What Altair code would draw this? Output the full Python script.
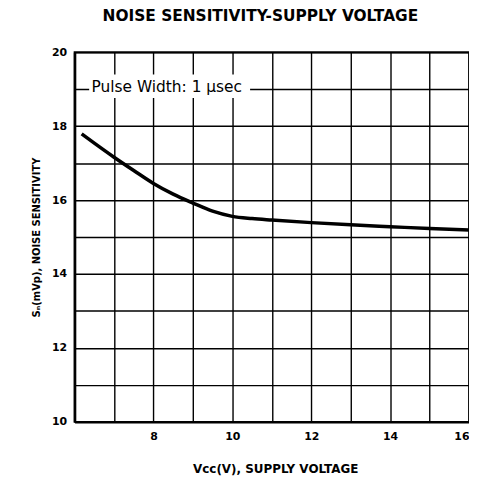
import altair as alt
import pandas as pd

# Curve data
vcc = [6.18, 6.5, 7.0, 7.5, 8.0, 8.5, 9.0, 9.5, 10.0, 10.5, 11.0, 12.0, 13.0, 14.0, 15.0, 16.0]
sn = [17.79, 17.54, 17.16, 16.80, 16.45, 16.16, 15.92, 15.70, 15.56, 15.50, 15.46, 15.39, 15.33, 15.28, 15.23, 15.19]

x_grid = list(range(6, 17))
x_labels = [8, 10, 12, 14, 16]
y_grid = list(range(10, 21))
y_labels = [10, 12, 14, 16, 18, 20]

title_text = ["NOISE SENSITIVITY-SUPPLY VOLTAGE"]
ann_text = ["Pulse Width: 1 \u03bcsec"]
ann_x = [6.43]
ann_y = [19.05]
box_x = [6.37]
box_x2 = [10.45]
box_y = [18.76]
box_y2 = [19.40]

curve_df = pd.DataFrame({"x": vcc, "y": sn})
ann_df = pd.DataFrame({"t": ann_text, "x": ann_x, "y": ann_y})
box_df = pd.DataFrame({"x": box_x, "x2": box_x2, "y": box_y, "y2": box_y2})
title_df = pd.DataFrame({"t": title_text})

FONT = "DejaVu Sans"

xscale = alt.Scale(domain=[6, 16], nice=False, zero=False)
yscale = alt.Scale(domain=[10, 20], nice=False, zero=False)

xaxis = alt.Axis(
    values=x_grid,
    labelExpr="indexof(" + str(x_labels) + ", datum.value) >= 0 ? datum.label : ''",
    title="Vcc(V), SUPPLY VOLTAGE",
    titleFont=FONT, titleFontSize=12, titleFontWeight="bold", titleColor="black",
    titleY=47, titleBaseline="middle", titleX=202,
    labelFont=FONT, labelFontSize=11, labelFontWeight="bold", labelColor="black",
    labelPadding=9, ticks=False, grid=True, gridColor="black", gridWidth=1.4,
    gridOpacity=1, domain=True, domainColor="black", domainWidth=2.5,
    labelOverlap=False,
)
yaxis = alt.Axis(
    values=y_grid,
    labelExpr="indexof(" + str(y_labels) + ", datum.value) >= 0 ? datum.label : ''",
    title="S\u2099(mVp), NOISE SENSITIVITY",
    titleFont=FONT, titleFontSize=10, titleFontWeight="bold", titleColor="black",
    titleX=-38, titleY=186, titleBaseline="middle", titleAlign="center", titleAngle=-90,
    labelFont=FONT, labelFontSize=11, labelFontWeight="bold", labelColor="black",
    labelPadding=8, ticks=False, grid=True, gridColor="black", gridWidth=1.4,
    gridOpacity=1, domain=True, domainColor="black", domainWidth=2.5,
    labelOverlap=False,
)

X = alt.X("x:Q", scale=xscale, axis=xaxis)
Y = alt.Y("y:Q", scale=yscale, axis=yaxis)

curve = alt.Chart(curve_df).mark_line(
    color="black", strokeWidth=3.5, interpolate="monotone"
).encode(x=X, y=Y)

box = alt.Chart(box_df).mark_rect(color="white").encode(
    x=X, x2="x2:Q", y=Y, y2="y2:Q",
)

ann = alt.Chart(ann_df).mark_text(
    align="left", baseline="middle", font=FONT, fontSize=15.5, color="black"
).encode(x=X, y=Y, text="t:N")

title = alt.Chart(title_df).mark_text(
    align="center", baseline="alphabetic", font=FONT, fontSize=15.5,
    fontWeight="bold", color="black",
).encode(x=alt.value(187), y=alt.value(-31), text="t:N")

chart = alt.layer(curve, box, ann, title).properties(
    width=397,
    height=372,
    autosize=alt.AutoSizeParams(type="none"),
    padding={"left": 67, "top": 43, "right": 0, "bottom": 55},
    background="white",
).configure_view(stroke="black", strokeWidth=1.8)

chart.save("out.html", embed_options={"renderer": "svg", "actions": False})
